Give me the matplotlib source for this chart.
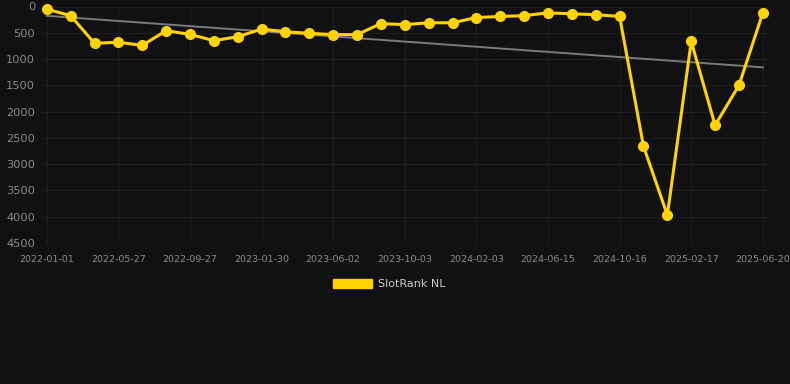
import numpy as np
import matplotlib
matplotlib.use('Agg')
import matplotlib.pyplot as plt
from matplotlib.patches import Patch

ranks = [50, 175, 700, 680, 740, 460, 530, 650, 575, 430, 480, 510, 535, 535, 325,
         345, 310, 310, 210, 190, 175, 120, 140, 155, 190, 2660, 3970, 665, 2260, 1500, 120]
tick_labels = ['2022-01-01', '2022-05-27', '2022-09-27', '2023-01-30', '2023-06-02',
               '2023-10-03', '2024-02-03', '2024-06-15', '2024-10-16', '2025-02-17', '2025-06-20']
y_ticks = [0, 500, 1000, 1500, 2000, 2500, 3000, 3500, 4000, 4500]

bg = '#111111'
gold = '#FFD200'

x = np.arange(len(ranks))
slope, icpt = np.polyfit(x, ranks, 1)
trend = slope * x + icpt

fig = plt.figure(figsize=(7.9, 3.84), dpi=100, facecolor=bg)
ax = fig.add_axes([42 / 790, 1 - 243 / 384, 728 / 790, 236.5 / 384])
ax.set_facecolor(bg)

ax.plot(x, trend, color='#7a7a7a', lw=1.4, zorder=2)
ax.plot(x, ranks, color=gold, lw=2.2, marker='o', ms=7, zorder=3, clip_on=False)

ax.set_xlim(-0.2, 30.3)
ax.set_ylim(4500, 0)
ax.set_yticks(y_ticks)
ax.set_xticks(x[::3])
ax.set_xticklabels(tick_labels)
ax.tick_params(axis='y', length=0, pad=5, labelsize=8.2, labelcolor='#8a8a8a')
ax.tick_params(axis='x', length=0, pad=9, labelsize=6.8, labelcolor='#8a8a8a')
ax.grid(True, color='#1f1f1f', lw=0.8)
for s in ax.spines.values():
    s.set_visible(False)

handle = Patch(facecolor=gold, edgecolor=gold)
fig.legend([handle], ['SlotRank NL'], loc='center', bbox_to_anchor=(0.493, 1 - 284 / 384),
           frameon=False, fontsize=8, labelcolor='#cccccc',
           handlelength=3.5, handleheight=0.9, handletextpad=0.5)

fig.savefig('out.png', dpi=100, facecolor=bg)
